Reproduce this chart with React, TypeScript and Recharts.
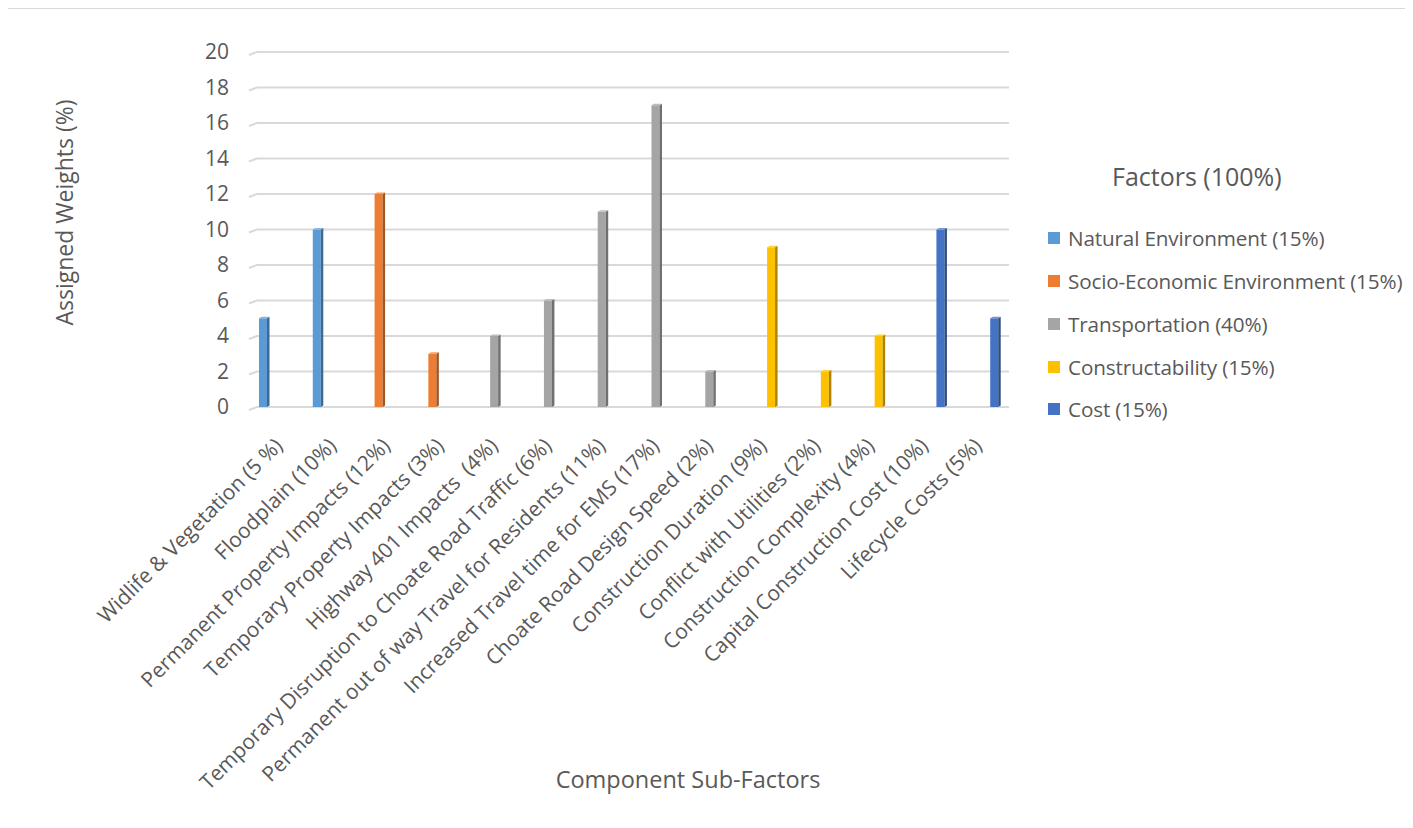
// Sub-factor weights chart (Excel-style 3D clustered columns), Recharts.

import { BarChart, Bar, XAxis, YAxis, CartesianGrid, Legend } from 'recharts';

const FONT = '"Open Sans", sans-serif';
const TEXT = '#595959';

const subFactors = [
  'Widlife & Vegetation (5 %)',
  'Floodplain (10%)',
  'Permanent Property Impacts (12%)',
  'Temporary Property Impacts (3%)',
  'Highway 401 Impacts  (4%)',
  'Temporary Disruption to Choate Road Traffic (6%)',
  'Permanent out of way Travel for Residents (11%)',
  'Increased Travel time for EMS (17%)',
  'Choate Road Design Speed (2%)',
  'Construction Duration (9%)',
  'Conflict with Utilities (2%)',
  'Construction Complexity (4%)',
  'Capital Construction Cost (10%)',
  'Lifecycle Costs (5%)',
];

const naturalEnv = [5, 10, null, null, null, null, null, null, null, null, null, null, null, null];
const socioEnv = [null, null, 12, 3, null, null, null, null, null, null, null, null, null, null];
const transportation = [null, null, null, null, 4, 6, 11, 17, 2, null, null, null, null, null];
const constructability = [null, null, null, null, null, null, null, null, null, 9, 2, 4, null, null];
const cost = [null, null, null, null, null, null, null, null, null, null, null, null, 10, 5];

const seriesNames = [
  'Natural Environment (15%)',
  'Socio-Economic Environment (15%)',
  'Transportation (40%)',
  'Constructability (15%)',
  'Cost (15%)',
];
const seriesKeys = ['natural', 'socio', 'transport', 'construct', 'cost'];
const seriesColors = ['#5B9BD5', '#ED7D31', '#A5A5A5', '#FFC000', '#4472C4'];

const yTicks = [0, 2, 4, 6, 8, 10, 12, 14, 16, 18, 20];

const rows = subFactors.map((name, i) => ({
  name,
  natural: naturalEnv[i],
  socio: socioEnv[i],
  transport: transportation[i],
  construct: constructability[i],
  cost: cost[i],
}));

// petit utilitaire de teinte (f < 1 assombrit, f > 1 éclaircit)
function shade(hex: string, f: number) {
  const n = parseInt(hex.slice(1), 16);
  const ch = [(n >> 16) & 255, (n >> 8) & 255, n & 255].map((c) =>
    f <= 1 ? Math.round(c * f) : Math.round(c + (255 - c) * (f - 1))
  );
  return `rgb(${ch[0]},${ch[1]},${ch[2]})`;
}

function Bar3D(props: any) {
  const { x, y, width, height, fill } = props;
  if (!height || height <= 0) return null;
  const d = 2.5;
  const up = 1.5;
  return (
    <g>
      <rect x={x} y={y} width={width} height={height} fill={fill} />
      <polygon
        points={`${x + width},${y} ${x + width + d},${y - up} ${x + width + d},${y + height - up} ${x + width},${y + height}`}
        fill={shade(fill, 0.68)}
      />
      <polygon
        points={`${x},${y} ${x + d},${y - up} ${x + width + d},${y - up} ${x + width},${y}`}
        fill={shade(fill, 1.25)}
      />
    </g>
  );
}

function GridLine(props: any) {
  const { x1, x2, y1 } = props;
  return (
    <path
      d={`M${x1 - 3},${y1 + 3} L${x1 + 5},${y1} L${x2 + 4},${y1}`}
      stroke="#d9d9d9"
      strokeWidth={2}
      fill="none"
    />
  );
}

function SubFactorTick(props: any) {
  const { x, y, payload } = props;
  return (
    <g transform={`translate(${x + 5},${y + 34})`}>
      <text
        x={0}
        y={0}
        transform="rotate(-45)"
        textAnchor="end"
        fill={TEXT}
        fontSize={21}
        fontFamily={FONT}
        style={{ whiteSpace: 'pre' }}
      >
        {payload.value}
      </text>
    </g>
  );
}

function renderLegend(props: any) {
  // ordre des séries, pas l'ordre alphabétique
  const items = [...props.payload].sort(
    (a: any, b: any) => seriesNames.indexOf(a.value) - seriesNames.indexOf(b.value)
  );
  return (
    <div style={{ fontFamily: FONT, color: TEXT, whiteSpace: 'nowrap' }}>
      <div style={{ fontSize: 25, lineHeight: '30px', paddingLeft: 64 }}>Factors (100%)</div>
      <div style={{ marginTop: 26 }}>
        {items.map((entry: any) => (
          <div
            key={entry.value}
            style={{ display: 'flex', alignItems: 'center', height: 42.75, fontSize: 20.7, letterSpacing: -0.15 }}
          >
            <span style={{ display: 'inline-block', width: 12, height: 12, background: entry.color, marginRight: 8 }} />
            {entry.value}
          </div>
        ))}
      </div>
    </div>
  );
}

export default function App() {
  return (
    <div
      style={{
        width: 1407,
        height: 821,
        marginLeft: -2,
        marginTop: -1,
        borderTop: '2px solid #d9d9d9',
        borderLeft: '2px solid #d9d9d9',
        background: '#fff',
      }}
    >
      <BarChart
        width={1405}
        height={819}
        data={rows}
        margin={{ top: 43, right: 408, left: 20, bottom: 0 }}
        barSize={8}
        barGap={0}
      >
        <CartesianGrid vertical={false} horizontal={GridLine as any} />
        <XAxis
          dataKey="name"
          interval={0}
          height={421}
          axisLine={false}
          tickLine={false}
          tickMargin={0}
          tick={SubFactorTick}
          label={{
            content: () => (
              <text x={680} y={779} textAnchor="middle" fill={TEXT} fontSize={23.5} fontFamily={FONT}>
                Component Sub-Factors
              </text>
            ),
          }}
        />
        <YAxis
          width={224}
          domain={[0, 20]}
          ticks={yTicks}
          axisLine={false}
          tickLine={false}
          tickMargin={17}
          tick={{ fill: TEXT, fontSize: 21, fontFamily: FONT }}
          label={{
            content: () => (
              <text
                x={56}
                y={203.5}
                transform="rotate(-90, 56, 203.5)"
                textAnchor="middle"
                dominantBaseline="central"
                fill={TEXT}
                fontSize={23}
                fontFamily={FONT}
              >
                Assigned Weights (%)
              </text>
            ),
          }}
        />
        <Legend
          layout="vertical"
          align="center"
          verticalAlign="middle"
          content={renderLegend}
          wrapperStyle={{ left: 1040, top: 152, width: 370 }}
        />
        {seriesKeys.map((key, i) => (
          <Bar
            key={key}
            dataKey={key}
            name={seriesNames[i]}
            fill={seriesColors[i]}
            shape={Bar3D}
            isAnimationActive={false}
          />
        ))}
      </BarChart>
    </div>
  );
}
